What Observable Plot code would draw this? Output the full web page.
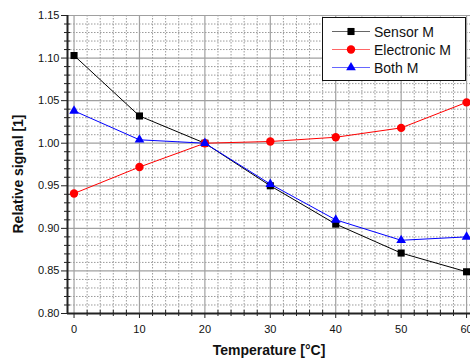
<!DOCTYPE html>
<html>
<head>
<meta charset="utf-8">
<script src="https://cdn.jsdelivr.net/npm/d3@7"></script>
<script src="https://cdn.jsdelivr.net/npm/@observablehq/plot@0.6"></script>
<style>
  html, body { margin: 0; padding: 0; background: #fff; }
  svg { display: block; }
</style>
</head>
<body>
<div id="chart"></div>
<script>
const temperature = [0, 10, 20, 30, 40, 50, 60];
const sensorM     = [1.103, 1.032, 1.000, 0.950, 0.905, 0.871, 0.849];
const electronicM = [0.941, 0.972, 1.000, 1.002, 1.007, 1.018, 1.048];
const bothM       = [1.038, 1.004, 1.000, 0.952, 0.910, 0.886, 0.890];
const seriesNames = ["Sensor M", "Electronic M", "Both M"];
const xTicks = [0, 10, 20, 30, 40, 50, 60];
const yTicks = [0.80, 0.85, 0.90, 0.95, 1.00, 1.05, 1.10, 1.15];

const seriesDefs = [
  {name: seriesNames[0], values: sensorM, color: "#000000", symbol: "square", r: 4.0},
  {name: seriesNames[1], values: electronicM, color: "#ff0000", symbol: "circle", r: 4.2},
  {name: seriesNames[2], values: bothM, color: "#0000ff", symbol: "triangle", r: 3.6}
];
const rows = seriesDefs.flatMap(s => temperature.map((t, i) => ({series: s.name, t, v: s.values[i]})));

const xMinor = d3.range(0, 61, 2).filter(v => v % 10 !== 0);
const yMinor = d3.range(80, 116, 1).map(v => v / 100).filter(v => Math.round(v * 100) % 5 !== 0);

const font = "Liberation Sans, Arial, Helvetica, sans-serif";

const marks = [
  Plot.ruleX(xMinor, {stroke: "#9a9a9a", strokeDasharray: "1.5,1.5", strokeWidth: 1}),
  Plot.ruleY(yMinor, {stroke: "#9a9a9a", strokeDasharray: "1.5,1.5", strokeWidth: 1}),
  Plot.ruleX(xTicks, {stroke: "#a0a0a0", strokeWidth: 1.2}),
  Plot.ruleY(yTicks, {stroke: "#a0a0a0", strokeWidth: 1.2}),
  Plot.axisY(yMinor, {tickSize: 3, tickFormat: () => "", stroke: "#222"}),
  Plot.axisY(yMinor, {tickSize: -3, tickFormat: () => "", stroke: "#222"}),
  Plot.axisX(xMinor, {tickSize: 3, tickFormat: () => "", stroke: "#222"}),
  Plot.axisX(xMinor, {tickSize: -3, tickFormat: () => "", stroke: "#222"}),
  Plot.axisY(yTicks, {tickSize: 6, tickPadding: 2, tickFormat: d3.format(".2f"), fontSize: 11, stroke: "#222", fill: "#111", label: null}),
  Plot.axisX(xTicks, {tickSize: 5, tickPadding: 7, fontSize: 11, stroke: "#222", fill: "#111", label: null}),
  Plot.ruleX([-1], {stroke: "#222", strokeWidth: 2}),
  Plot.ruleY([0.80], {stroke: "#222", strokeWidth: 2})
];
for (const s of seriesDefs) {
  const d = rows.filter(r => r.series === s.name);
  marks.push(Plot.line(d, {x: "t", y: "v", stroke: s.color, strokeWidth: 1}));
  marks.push(Plot.dot(d, {x: "t", y: "v", fill: s.color, stroke: "none", symbol: () => s.symbol, r: s.r}));
}

const chart = Plot.plot({
  width: 470,
  height: 360,
  marginLeft: 67,
  marginRight: 0,
  marginTop: 15,
  marginBottom: 47,
  style: {fontFamily: font, background: "#fff", overflow: "visible"},
  x: {domain: [-1, 60.6], label: null},
  y: {domain: [0.80, 1.15], label: null},
  marks
});

const svg = d3.select(chart);
// axis titles
svg.append("text")
  .attr("x", 269).attr("y", 355)
  .attr("text-anchor", "middle")
  .attr("font-family", font).attr("font-weight", "bold").attr("font-size", 14)
  .attr("fill", "#111")
  .text("Temperature [°C]");
svg.append("text")
  .attr("transform", "translate(23,174) rotate(-90)")
  .attr("text-anchor", "middle")
  .attr("font-family", font).attr("font-weight", "bold").attr("font-size", 14)
  .attr("fill", "#111")
  .text("Relative signal [1]");

// legend
const lg = svg.append("g");
lg.append("rect").attr("x", 322.5).attr("y", 17.5).attr("width", 143).attr("height", 63)
  .attr("fill", "#fff").attr("stroke", "#111").attr("stroke-width", 1);
const sym = {square: d3.symbolSquare, circle: d3.symbolCircle, triangle: d3.symbolTriangle};
seriesDefs.forEach((s, i) => {
  const cy = 31.5 + i * 18;
  lg.append("line").attr("x1", 332).attr("x2", 370).attr("y1", cy).attr("y2", cy)
    .attr("stroke", s.color).attr("stroke-width", 1).attr("stroke-opacity", 0.6);
  lg.append("path")
    .attr("transform", `translate(351,${cy})`)
    .attr("d", d3.symbol(sym[s.symbol], Math.PI * s.r * s.r)())
    .attr("fill", s.color);
  lg.append("text").attr("x", 374).attr("y", cy).attr("dy", "0.36em")
    .attr("text-anchor", "start")
    .attr("font-family", font).attr("font-size", 14).attr("fill", "#111")
    .text(s.name);
});

document.getElementById("chart").appendChild(chart);
</script>
</body>
</html>
